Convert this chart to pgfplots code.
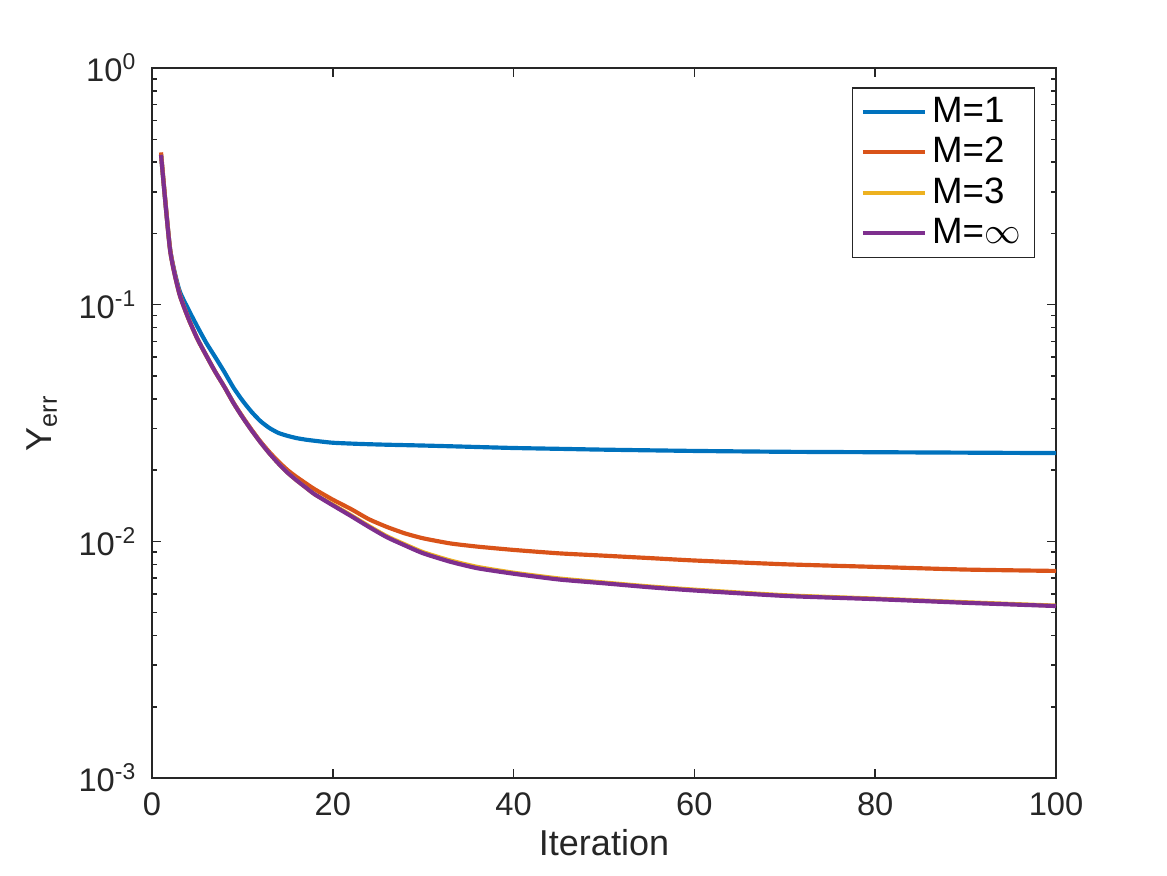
\documentclass[border=0pt]{standalone}
\usepackage{fontspec}
\setmainfont{Liberation Sans}
\usepackage{pgfplots}
\usepackage{pgfplotstable}
\pgfplotsset{compat=1.18}

\definecolor{mblue}{rgb}{0,0.447,0.741}
\definecolor{morange}{rgb}{0.85,0.325,0.098}
\definecolor{myellow}{rgb}{0.929,0.694,0.125}
\definecolor{mpurple}{rgb}{0.494,0.184,0.556}
\definecolor{axgray}{rgb}{0.15,0.15,0.15}

% Y_err against iteration for each memory length M
\pgfplotstableread{
it   err
1    0.430
2    0.172
3    0.116
4    0.096
5    0.081
6    0.069
7    0.060
8    0.052
9    0.0447
10   0.0394
11   0.0353
12   0.0322
13   0.0301
14   0.0287
15   0.0279
16   0.0273
17   0.0269
18   0.0266
20   0.0261
23   0.0258
26   0.0256
30   0.0254
35   0.0251
40   0.0248
45   0.0246
50   0.0244
60   0.0241
70   0.0239
80   0.0238
90   0.0237
100  0.0236
}\mone

\pgfplotstableread{
it   err
1    0.440
2    0.172
3    0.113
4    0.088
5    0.072
6    0.061
7    0.052
8    0.045
9    0.0386
10   0.0337
11   0.0297
12   0.0264
13   0.0238
14   0.0217
15   0.0200
16   0.0187
17   0.0176
18   0.0166
20   0.0150
22   0.0137
24   0.0124
26   0.0115
28   0.0108
30   0.0103
33   0.0098
36   0.0095
40   0.0092
45   0.0089
50   0.0087
55   0.0085
60   0.0083
70   0.0080
80   0.0078
90   0.0076
100  0.0075
}\mtwo

\pgfplotstableread{
it   err
1    0.430
2    0.170
3    0.112
4    0.088
5    0.072
6    0.061
7    0.052
8    0.045
9    0.0385
10   0.0335
11   0.0295
12   0.0262
13   0.0235
14   0.0213
15   0.0195
16   0.0181
17   0.0169
18   0.0158
20   0.0143
22   0.0129
24   0.0116
26   0.0105
28   0.0097
30   0.0090
33   0.0083
36   0.0078
40   0.00737
45   0.00697
50   0.0067
55   0.00645
60   0.00625
70   0.00592
80   0.00573
90   0.00553
100  0.00535
}\mthree

\pgfplotstableread{
it   err
1    0.430
2    0.170
3    0.112
4    0.088
5    0.072
6    0.061
7    0.052
8    0.045
9    0.0385
10   0.0335
11   0.0295
12   0.0262
13   0.0235
14   0.0213
15   0.0195
16   0.0181
17   0.0169
18   0.0158
20   0.0142
22   0.0128
24   0.0115
26   0.0104
28   0.0096
30   0.0089
33   0.0082
36   0.0077
40   0.0073
45   0.0069
50   0.00665
55   0.0064
60   0.0062
70   0.00588
80   0.0057
90   0.0055
100  0.00533
}\minf

\begin{document}
\begin{tikzpicture}
\useasboundingbox (-45.6pt,-29.1pt) rectangle (304.5pt,233.4pt);
\begin{axis}[
  at={(0,0)}, anchor=south west,
  scale only axis,
  width=271.2pt, height=213pt,
  ymode=log,
  xmin=0, xmax=100, ymin=1e-3, ymax=1,
  xtick={0,20,40,60,80,100},
  ytick={1e-3,1e-2,1e-1,1},
  yticklabels={10\textsuperscript{-3},10\textsuperscript{-2},10\textsuperscript{-1},10\textsuperscript{0}},
  minor ytick={2e-3,3e-3,4e-3,5e-3,6e-3,7e-3,8e-3,9e-3,
               2e-2,3e-2,4e-2,5e-2,6e-2,7e-2,8e-2,9e-2,
               2e-1,3e-1,4e-1,5e-1,6e-1,7e-1,8e-1,9e-1},
  /pgf/number format/assume math mode=true,
  tick align=inside,
  major tick length=2.7pt,
  minor tick length=1.6pt,
  every tick/.style={color=axgray, line width=0.45pt},
  axis line style={color=axgray, line width=0.45pt},
  ticklabel style={font=\fontsize{9.8}{11}\selectfont, color=axgray},
  xticklabel style={yshift=-1pt},
  yticklabel style={xshift=-1pt},
  xlabel={Iteration},
  ylabel={Y\textsubscript{err}},
  label style={font=\fontsize{10.8}{12}\selectfont, color=axgray},
  xlabel style={at={(axis description cs:0.5,-0.0915)}, anchor=center},
  ylabel style={at={(axis description cs:-0.1217,0.5)}, anchor=center, rotate=0},
  legend style={
    at={(0.9768,0.9732)}, anchor=north east,
    draw=axgray, line width=0.45pt,
    font=\fontsize{11}{12}\selectfont,
    inner xsep=2.5pt, inner ysep=1.2pt,
    row sep=0pt,
    nodes={inner xsep=1.6pt, inner ysep=1.5pt},
    cells={anchor=west},
  },
  legend image code/.code={\draw[#1, line width=1.15pt] (0pt,0pt) -- (18.6pt,0pt);},
  every axis plot/.append style={line width=1.25pt, line join=round, smooth, tension=0.35},
]
\addplot[color=mblue]    table[x=it,y=err] {\mone};
\addplot[color=morange]  table[x=it,y=err] {\mtwo};
\addplot[color=myellow]  table[x=it,y=err] {\mthree};
\addplot[color=mpurple]  table[x=it,y=err] {\minf};
\legend{M=1,M=2,M=3,M=$\infty$}
\end{axis}
\end{tikzpicture}
\end{document}
